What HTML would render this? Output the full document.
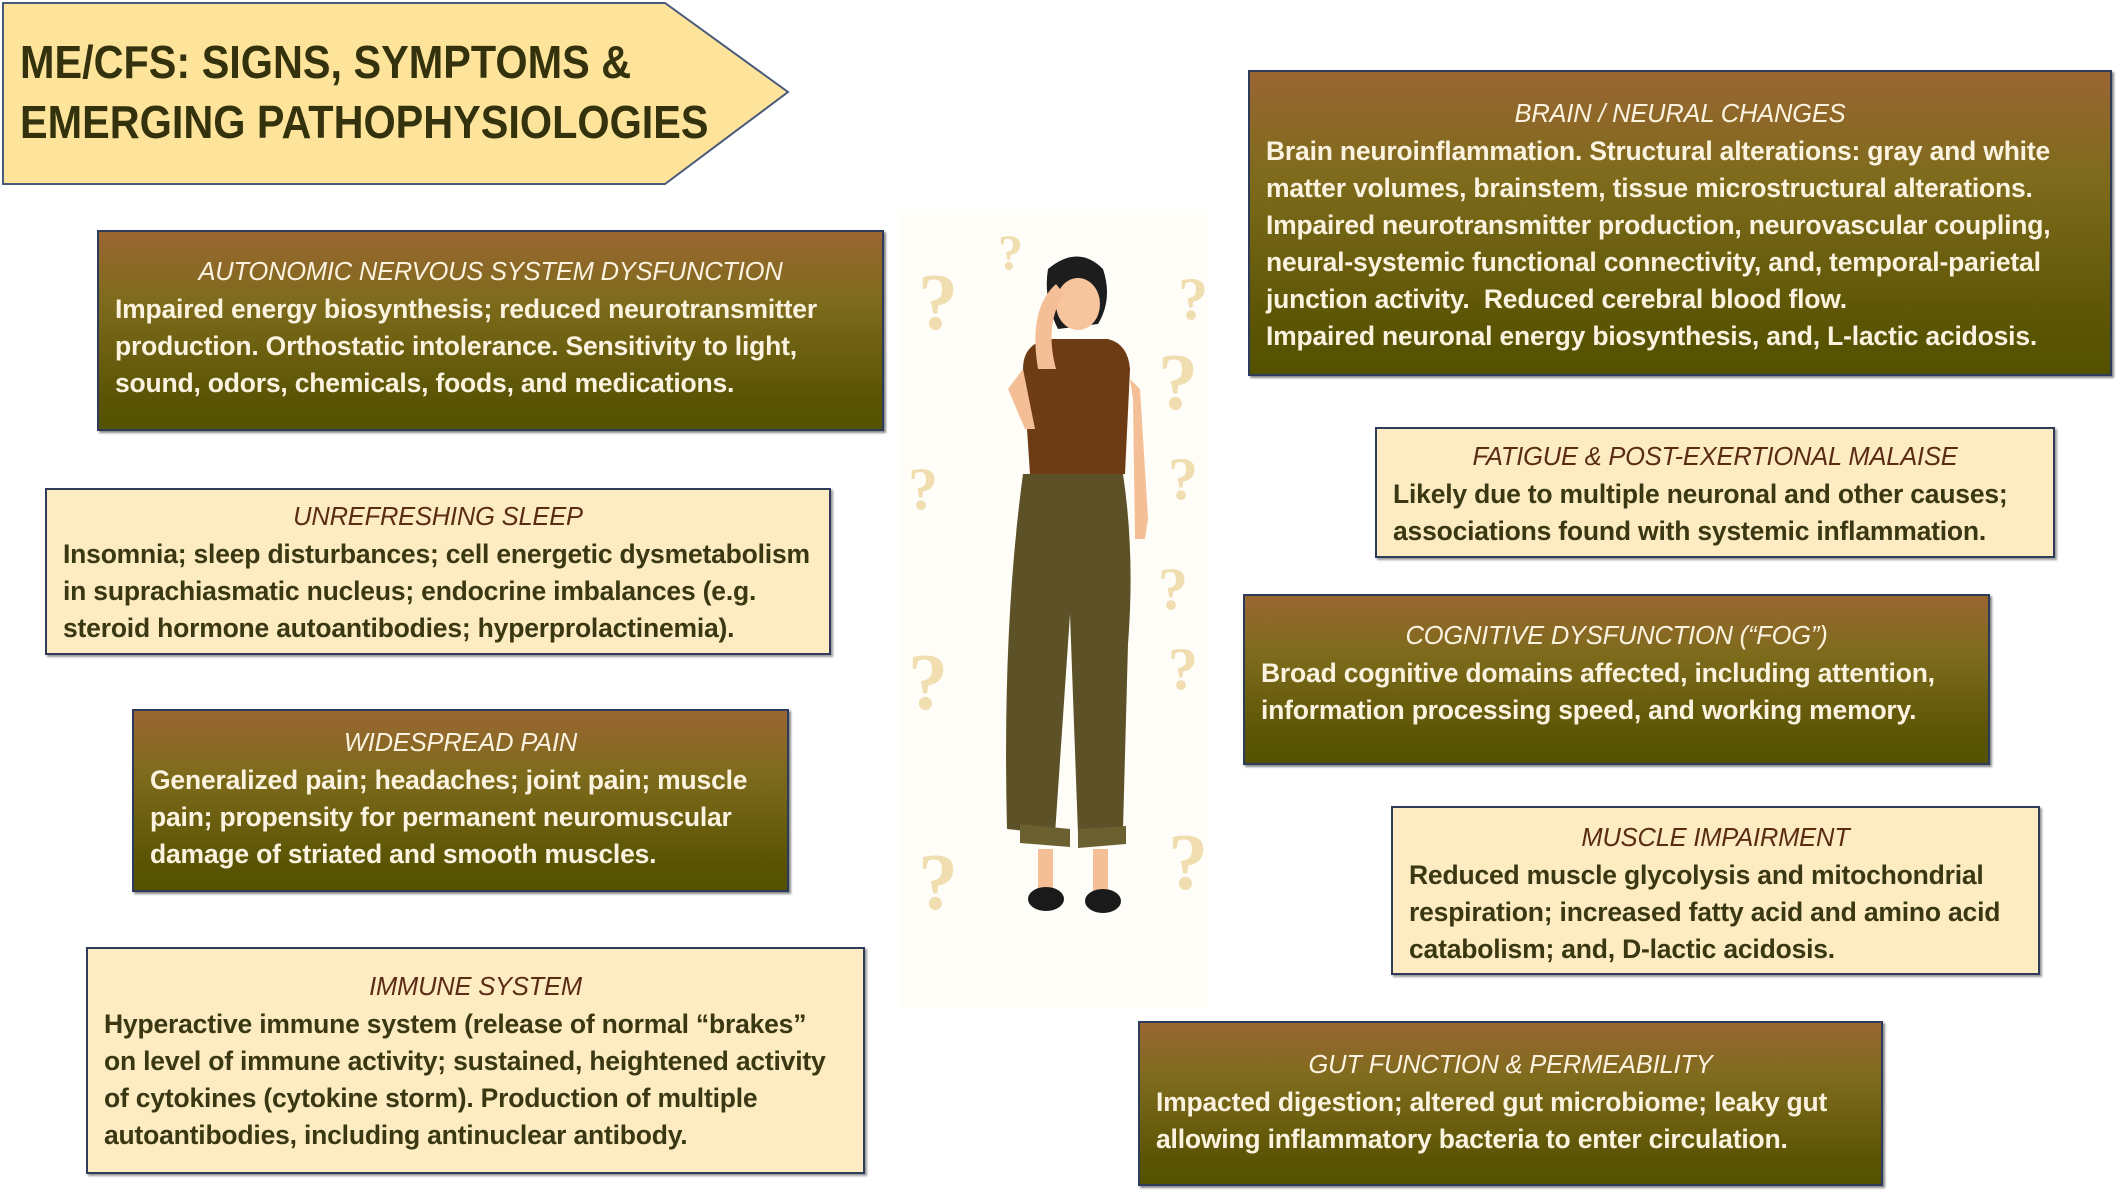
<!DOCTYPE html>
<html><head><meta charset="utf-8"><style>
body{margin:0;width:2118px;height:1192px;background:#fff;position:relative;overflow:hidden;font-family:"Liberation Sans",sans-serif;}
.b{position:absolute;box-sizing:border-box;border:2px solid #2f3b5a;font-weight:bold;font-size:26.5px;line-height:37px;white-space:nowrap;padding:22px 0 0 16px;letter-spacing:-0.2px;}
.d{background:linear-gradient(#9a6632,#7e6b1c 35%,#5a5404 85%,#545200);color:#fbf3e0;box-shadow:2px 2px 2px #888;}
.l{background:#fdebc2;color:#3a3812;box-shadow:2px 2px 2px #999;}
.t{display:block;text-align:center;font-style:italic;font-weight:normal;margin-left:-16px;font-size:25.5px;}
.l .t{color:#5a2c14;}
</style></head><body>
<svg style="position:absolute;left:0;top:0" width="800" height="190"><polygon points="3,3 665,3 788,92 665,184 3,184" fill="#fee49b" stroke="#4a5a7a" stroke-width="2"/></svg>
<div style="position:absolute;left:20px;top:32px;font-weight:bold;font-size:46px;line-height:60px;color:#33320c;transform:scaleX(0.9);transform-origin:left;white-space:nowrap">ME/CFS: SIGNS, SYMPTOMS &amp;<br>EMERGING PATHOPHYSIOLOGIES</div>

<div class="b d" style="left:97px;top:230px;width:787px;height:201px"><span class="t">AUTONOMIC NERVOUS SYSTEM DYSFUNCTION</span>Impaired energy biosynthesis; reduced neurotransmitter<br>production. Orthostatic intolerance. Sensitivity to light,<br>sound, odors, chemicals, foods, and medications.</div>
<div class="b l" style="left:45px;top:488px;width:786px;height:167px;padding-top:9px"><span class="t">UNREFRESHING SLEEP</span>Insomnia; sleep disturbances; cell energetic dysmetabolism<br>in suprachiasmatic nucleus; endocrine imbalances (e.g.<br>steroid hormone autoantibodies; hyperprolactinemia).</div>
<div class="b d" style="left:132px;top:709px;width:657px;height:183px;padding-top:14px"><span class="t">WIDESPREAD PAIN</span>Generalized pain; headaches; joint pain; muscle<br>pain; propensity for permanent neuromuscular<br>damage of striated and smooth muscles.</div>
<div class="b l" style="left:86px;top:947px;width:779px;height:227px;padding-top:20px"><span class="t">IMMUNE SYSTEM</span>Hyperactive immune system (release of normal “brakes”<br>on level of immune activity; sustained, heightened activity<br>of cytokines (cytokine storm). Production of multiple<br>autoantibodies, including antinuclear antibody.</div>

<div class="b d" style="left:1248px;top:70px;width:864px;height:306px;padding-top:24px"><span class="t">BRAIN / NEURAL CHANGES</span>Brain neuroinflammation. Structural alterations: gray and white<br>matter volumes, brainstem, tissue microstructural alterations.<br>Impaired neurotransmitter production, neurovascular coupling,<br>neural-systemic functional connectivity, and, temporal-parietal<br>junction activity.&nbsp; Reduced cerebral blood flow.<br>Impaired neuronal energy biosynthesis, and, L-lactic acidosis.</div>
<div class="b l" style="left:1375px;top:427px;width:680px;height:131px;padding-top:10px"><span class="t">FATIGUE &amp; POST-EXERTIONAL MALAISE</span>Likely due to multiple neuronal and other causes;<br>associations found with systemic inflammation.</div>
<div class="b d" style="left:1243px;top:594px;width:747px;height:171px;padding-top:22px"><span class="t">COGNITIVE DYSFUNCTION (“FOG”)</span>Broad cognitive domains affected, including attention,<br>information processing speed, and working memory.</div>
<div class="b l" style="left:1391px;top:806px;width:649px;height:169px;padding-top:12px"><span class="t">MUSCLE IMPAIRMENT</span>Reduced muscle glycolysis and mitochondrial<br>respiration; increased fatty acid and amino acid<br>catabolism; and, D-lactic acidosis.</div>
<div class="b d" style="left:1138px;top:1021px;width:745px;height:165px;padding-top:24px"><span class="t">GUT FUNCTION &amp; PERMEABILITY</span>Impacted digestion; altered gut microbiome; leaky gut<br>allowing inflammatory bacteria to enter circulation.</div>

<svg style="position:absolute;left:898px;top:209px" width="310" height="800" viewBox="0 0 310 800">
<rect width="310" height="800" fill="#fffdf8"/>
<g fill="#f0ddb0" font-family="Liberation Serif,serif" font-weight="bold" font-size="80">
<text x="20" y="120">?</text><text x="280" y="110" font-size="60">?</text><text x="260" y="200">?</text><text x="270" y="290" font-size="60">?</text>
<text x="10" y="500">?</text><text x="270" y="480" font-size="60">?</text><text x="20" y="700">?</text><text x="270" y="680">?</text><text x="100" y="60" font-size="50">?</text>
<text x="260" y="400" font-size="60">?</text><text x="10" y="300" font-size="60">?</text>
</g>
<path d="M150 60 q30 -25 55 0 q10 30 -5 55 l-40 5 q-15 -30 -10 -60z" fill="#1d1d1d"/>
<ellipse cx="180" cy="95" rx="22" ry="26" fill="#f6c49d"/>
<path d="M125 160 q0 -25 25 -30 l60 0 q20 5 22 30 l-5 105 l-95 0z" fill="#6d3c15"/>
<path d="M110 180 l15 -20 l12 60 l-10 0z M232 170 l10 10 l8 130 l-3 20 l-10 0 l-2 -140z" fill="#f4be96"/>
<path d="M140 160 q-10 -60 18 -85 l8 10 q-20 30 -8 75z" fill="#f4be96"/>
<path d="M125 265 l100 0 q12 80 5 170 l-5 185 l-45 5 l-8 -220 l-15 220 l-48 -5 q-5 -200 16 -355z" fill="#5d5127"/>
<path d="M122 615 l50 5 l0 18 l-50 -4z M180 620 l48 -3 l0 18 l-48 4z" fill="#6b6030"/>
<path d="M140 640 l15 0 l0 45 l-15 0z M195 640 l15 0 l0 45 l-15 0z" fill="#f4be96"/>
<ellipse cx="148" cy="690" rx="18" ry="12" fill="#1a1a1a"/><ellipse cx="205" cy="692" rx="18" ry="12" fill="#1a1a1a"/>
</svg>
</body></html>
